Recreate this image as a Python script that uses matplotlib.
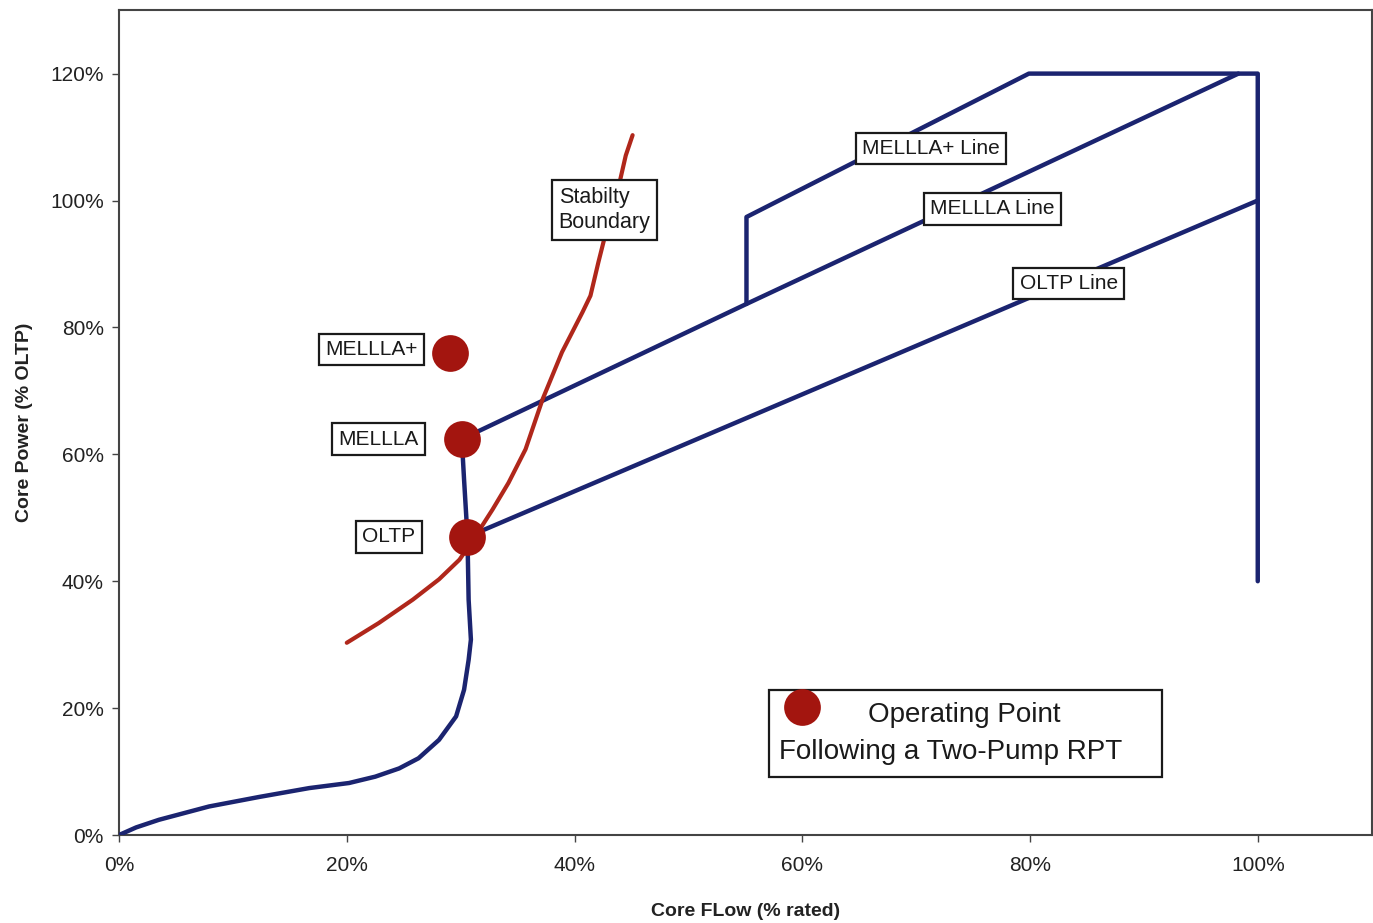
import matplotlib
matplotlib.use("Agg")
import matplotlib.pyplot as plt
from matplotlib.patches import Rectangle
from matplotlib.ticker import FuncFormatter

plt.rcParams['font.family'] = ['Liberation Sans', 'DejaVu Sans']

# Operating domain boundary (flow %, power %)
domain_flow = [0, 1.5, 3.5, 7.9, 12.3, 16.7, 20.2, 22.5, 24.6, 26.3, 28.1, 29.6,
               30.3, 30.7, 30.9, 30.7, 30.6, 30.3, 30.1]
domain_power = [0, 1.2, 2.4, 4.5, 6.0, 7.4, 8.2, 9.2, 10.5, 12.1, 15.0, 18.7,
                22.9, 27.6, 30.8, 37.1, 47.0, 56.0, 62.4]

# MELLLA line
mellla_flow = [30.1, 55.1, 98.3]
mellla_power = [62.4, 83.7, 120.0]

# MELLLA+ line and the flow-control limits
mellla_plus_flow = [55.1, 55.1, 79.9, 100.0, 100.0]
mellla_plus_power = [83.7, 97.4, 120.0, 120.0, 40.0]

# OLTP line
oltp_flow = [30.6, 100.0]
oltp_power = [47.0, 100.0]

# Stability boundary
stab_flow = [20.0, 22.8, 25.8, 28.1, 29.9, 31.3, 32.8, 34.2, 35.7, 37.2, 38.9,
             40.7, 41.4, 42.1, 42.9, 43.9, 44.5, 45.1]
stab_power = [30.3, 33.4, 37.1, 40.3, 43.4, 47.1, 51.3, 55.5, 60.8, 68.7, 76.1,
              82.4, 85.0, 90.3, 96.0, 102.4, 107.1, 110.3]

# Operating points following a two-pump RPT
point_names = ["MELLLA+", "MELLLA", "OLTP"]
point_flow = [29.1, 30.1, 30.6]
point_power = [76.0, 62.4, 47.0]

x_ticks = [0, 20, 40, 60, 80, 100]
y_ticks = [0, 20, 40, 60, 80, 100, 120]

navy = "#1b2470"
red = "#b0271b"
dot = "#a3150f"
ink = "#1a1a1a"

fig = plt.figure(figsize=(13.73, 9.23), dpi=100)
ax = fig.add_axes([0.0867, 0.0953, 0.9123, 0.8937])

line_kw = dict(solid_joinstyle='round', solid_capstyle='round', zorder=3)
ax.plot(domain_flow, domain_power, color=navy, lw=3.2, **line_kw)
ax.plot(mellla_flow, mellla_power, color=navy, lw=3.2, **line_kw)
ax.plot(mellla_plus_flow, mellla_plus_power, color=navy, lw=3.2, **line_kw)
ax.plot(oltp_flow, oltp_power, color=navy, lw=3.2, **line_kw)
ax.plot(stab_flow, stab_power, color=red, lw=3.0, **line_kw)
ax.scatter(point_flow, point_power, s=700, color=dot, zorder=5, linewidths=0)

box = dict(boxstyle='square,pad=0.3', facecolor='white', edgecolor=ink, lw=1.6)
txt = dict(fontsize=15, color=ink, zorder=6)

# point labels
label_pos = [(22.2, 76.5), (22.8, 62.4), (23.7, 47.0)]
for name, (lx, ly) in zip(point_names, label_pos):
    ax.text(lx, ly, name, ha='center', va='center', bbox=box, **txt)

# curve labels
ax.text(38.6, 98.5, "Stabilty\nBoundary", ha='left', va='center', bbox=box,
        linespacing=1.3, fontsize=15.5, color=ink, zorder=6)
ax.text(71.3, 108.2, "MELLLA+ Line", ha='center', va='center', bbox=box, **txt)
ax.text(76.7, 98.7, "MELLLA Line", ha='center', va='center', bbox=box, **txt)
ax.text(83.4, 86.9, "OLTP Line", ha='center', va='center', bbox=box, **txt)

# legend box
ax.add_patch(Rectangle((57.1, 9.2), 34.5, 13.7, facecolor='white', edgecolor=ink,
                       lw=1.6, zorder=6))
ax.scatter([60.0], [20.1], s=700, color=dot, zorder=7, linewidths=0)
ax.text(74.2, 18.9, "Operating Point", ha='center', va='center', fontsize=20,
        color=ink, zorder=7)
ax.text(73.0, 13.1, "Following a Two-Pump RPT", ha='center', va='center', fontsize=20,
        color=ink, zorder=7)

ax.set_xlim(0, 110)
ax.set_ylim(0, 130)
ax.set_xticks(x_ticks)
ax.set_yticks(y_ticks)
pct = FuncFormatter(lambda v, p: f"{v:.0f}%")
ax.xaxis.set_major_formatter(pct)
ax.yaxis.set_major_formatter(pct)
ax.tick_params(axis='both', direction='out', length=5, width=1, color='#444444',
               labelsize=15, labelcolor='#222222')
ax.tick_params(axis='x', pad=10)
ax.tick_params(axis='y', pad=6)

for s in ax.spines.values():
    s.set_color('#444444')
    s.set_linewidth(1.5)

ax.set_xlabel("Core FLow (% rated)", fontsize=14, fontweight='bold', color='#222222', labelpad=20)
ax.set_ylabel("Core Power (% OLTP)", fontsize=14, fontweight='bold', color='#222222', labelpad=12)

fig.savefig("out.png", dpi=100, facecolor='white')
